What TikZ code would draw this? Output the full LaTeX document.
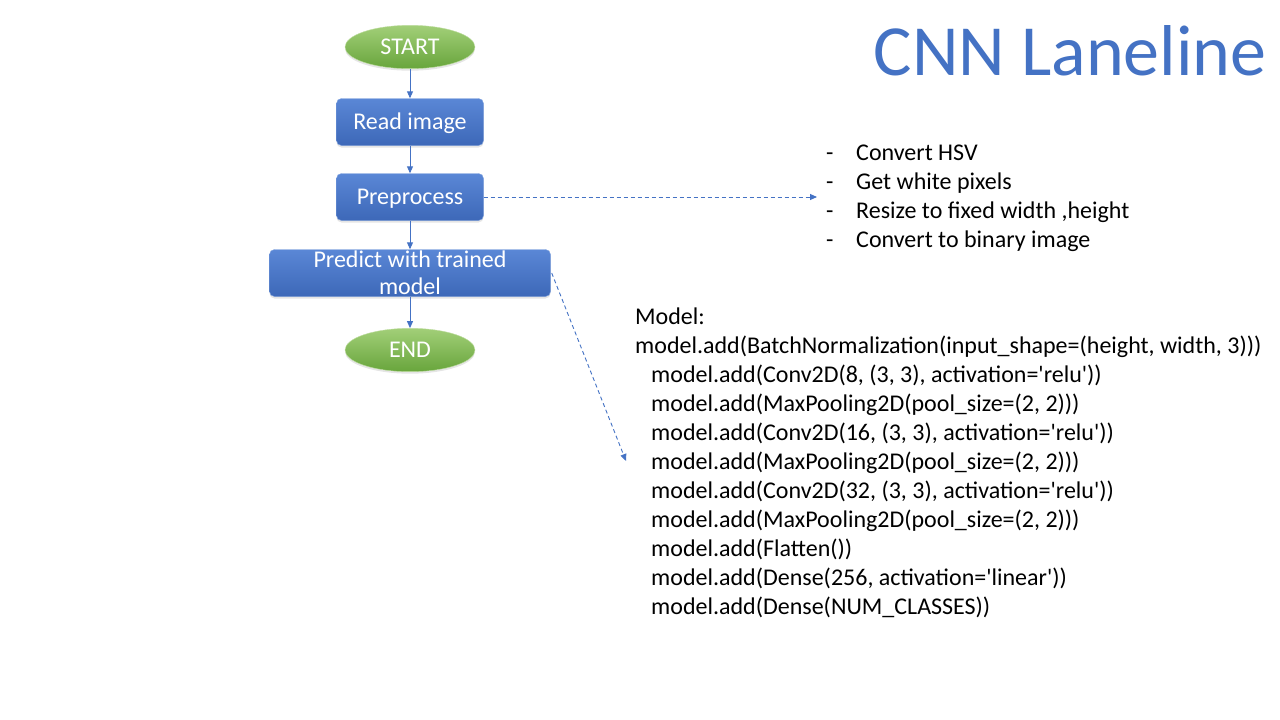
\documentclass[tikz,border=0pt]{standalone}
\usepackage{fontspec}
\setmainfont{Carlito}
\usetikzlibrary{arrows.meta,shapes.geometric,shadows}

\definecolor{flowblue}{HTML}{4472C4}
\definecolor{boxtop}{HTML}{5A87D6}
\definecolor{boxbot}{HTML}{3D68B8}
\definecolor{ovaltop}{HTML}{A2CF78}
\definecolor{ovalbot}{HTML}{68A53C}

\begin{document}
\begin{tikzpicture}[x=1pt, y=-1pt,
  every node/.style={font=\fontsize{24}{29}\selectfont},
  terminal/.style={ellipse, minimum width=130pt, minimum height=40pt,
    text height=19pt, text depth=5pt,
    top color=ovaltop, bottom color=ovalbot, draw=ovaltop!70!white, text=white,
    drop shadow={opacity=0.2, shadow xshift=0pt, shadow yshift=-2pt}},
  process/.style={rectangle, rounded corners=5pt, minimum height=47pt,
    top color=boxtop, bottom color=boxbot, draw=boxtop!80!white, text=white,
    drop shadow={opacity=0.2, shadow xshift=0pt, shadow yshift=-2pt}},
  flow/.style={draw=flowblue, line width=0.9pt, -{Triangle[length=7pt,width=6pt]}},
  link/.style={flow, dash pattern=on 4pt off 3pt}]
\useasboundingbox[fill=white] (0,0) rectangle (1280,720);

% Title
\node[text=flowblue, font=\fontsize{72}{80}\selectfont, anchor=base east] (title) at (1270,75) {CNN Laneline};

% Flow chart
\node[terminal] (start) at (410,47) {START};
\node[process, minimum width=147pt, text height=20pt, text depth=5pt] (read) at (410,122) {Read image};
\node[process, minimum width=147pt, text height=20pt, text depth=5pt] (prep) at (410,197) {Preprocess};
\node[process, minimum width=281pt, inner ysep=-3pt, align=center,
  font=\fontsize{24}{27}\selectfont] (predict) at (410,273) {Predict with trained\\model};
\node[terminal] (end) at (410,350) {END};

\draw[flow] (start) -- (read);
\draw[flow] (read) -- (prep);
\draw[flow] (prep) -- (predict);
\draw[flow] (predict) -- (end);

% Preprocess steps
\coordinate (steps) at (817,197);
\foreach \y/\txt in {160/Convert HSV, 189/Get white pixels,
    218/{Resize to fixed width ,height}, 247/Convert to binary image}
{
  \node[anchor=base west, inner sep=0pt] at (826,\y) {-};
  \node[anchor=base west, inner sep=0pt] at (856,\y) {\txt};
}
\draw[link] (prep.east) -- (steps);

% Model summary
\node[anchor=base west, inner sep=0pt] (model) at (635,324) {Model:};
\node[anchor=base west, inner sep=0pt] at (635,353)
  {model.add(BatchNormalization(input\_shape=(height, width, 3)))};
\foreach \y/\txt in {
    382/{model.add(Conv2D(8, (3, 3), activation=\textquotesingle relu\textquotesingle))},
    411/{model.add(MaxPooling2D(pool\_size=(2, 2)))},
    440/{model.add(Conv2D(16, (3, 3), activation=\textquotesingle relu\textquotesingle))},
    469/{model.add(MaxPooling2D(pool\_size=(2, 2)))},
    498/{model.add(Conv2D(32, (3, 3), activation=\textquotesingle relu\textquotesingle))},
    527/{model.add(MaxPooling2D(pool\_size=(2, 2)))},
    556/{model.add(Flatten())},
    585/{model.add(Dense(256, activation=\textquotesingle linear\textquotesingle))},
    614/{model.add(Dense(NUM\_CLASSES))}}
  \node[anchor=base west, inner sep=0pt] at (651,\y) {\txt};
\coordinate (modelin) at (626,461);
\draw[link] (predict.east) ++(1,0) coordinate (pe) (pe) -- (modelin);
\end{tikzpicture}
\end{document}
